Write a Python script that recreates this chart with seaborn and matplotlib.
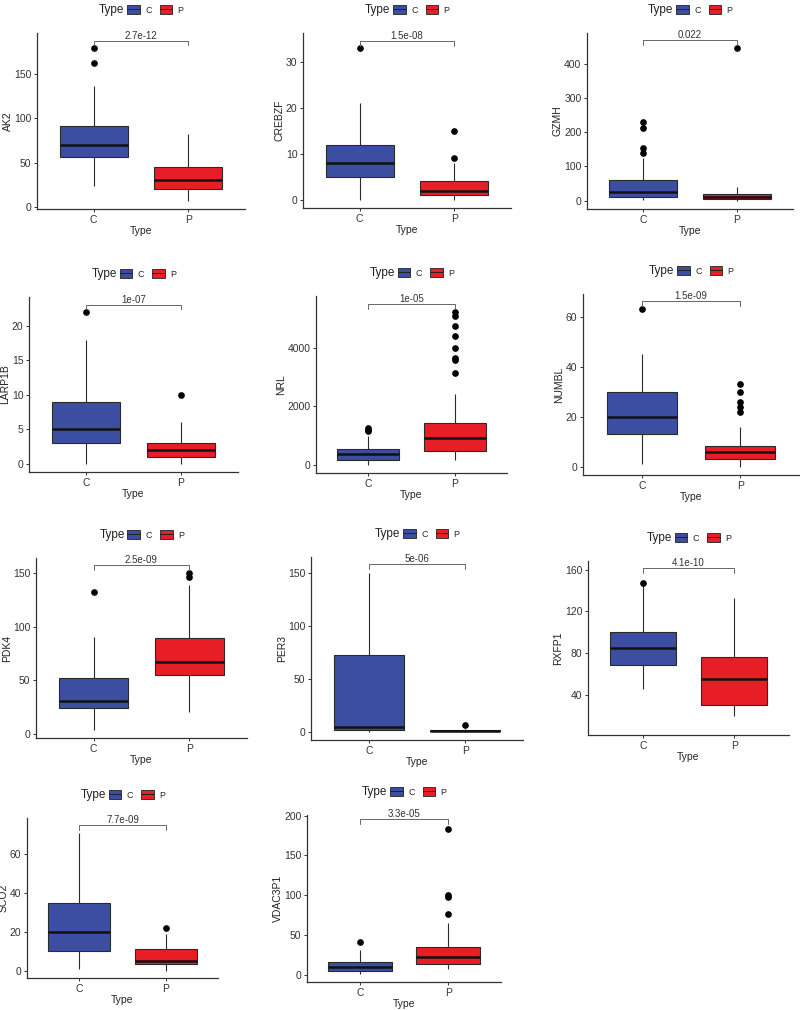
import matplotlib
matplotlib.use("Agg")
import matplotlib.pyplot as plt
import pandas as pd
import seaborn as sns
from matplotlib.patches import Patch
from matplotlib.lines import Line2D
from matplotlib.legend_handler import HandlerTuple

genes = ["AK2", "CREBZF", "GZMH", "LARP1B", "NRL", "NUMBL",
         "PDK4", "PER3", "RXFP1", "SCO2", "VDAC3P1"]
pvals = ["2.7e-12", "1.5e-08", "0.022", "1e-07", "1e-05", "1.5e-09",
         "2.5e-09", "5e-06", "4.1e-10", "7.7e-09", "3.3e-05"]

# box summaries: [whisker low, Q1, median, Q3, whisker high]
c_stats = [[24, 57, 70, 91, 136], [0, 5, 8, 12, 21], [1, 12, 25, 60, 125],
           [0, 3, 5, 9, 18], [11, 159, 385, 544, 975], [1, 13, 20, 30, 45],
           [4, 24, 31, 52, 91], [0, 1.5, 4, 72, 150], [46, 69, 85, 100, 145],
           [1, 10, 20, 35, 71], [1.3, 4.2, 10, 15.5, 30.7]]
p_stats = [[7.5, 20, 31, 45, 82], [0, 1, 2, 4, 8], [0, 4, 10, 19, 39],
           [0, 1, 2, 3, 6], [159, 487, 918, 1428, 2414], [0, 3, 6, 8.4, 16],
           [21, 55, 67, 90, 139], [0, 0.5, 1, 2, 3], [20, 30, 55, 76, 133],
           [0, 3.7, 4.9, 11, 19], [7.6, 13.4, 21.8, 34.5, 65]]
c_out = [[162, 179], [33], [140, 153, 211, 230], [22], [1150, 1200, 1250],
         [63], [133], [], [147], [], [41]]
p_out = [[], [9, 15], [445], [10],
         [3139, 3569, 3637, 3977, 4397, 4748, 5076, 5224],
         [22, 24, 26, 30, 33], [147, 150], [6.5], [], [22], [76, 98, 100, 183]]

yticks = [[0, 50, 100, 150], [0, 10, 20, 30], [0, 100, 200, 300, 400],
          [0, 5, 10, 15, 20], [0, 2000, 4000], [0, 20, 40, 60],
          [0, 50, 100, 150], [0, 50, 100, 150], [40, 80, 120, 160],
          [0, 20, 40, 60], [0, 50, 100, 150, 200]]
ylims = [(-2, 196), (-1.8, 36.3), (-24, 489), (-1.2, 24.2), (-272, 5768),
         (-3.2, 69.1), (-3.7, 164.3), (-7.8, 164.7), (1.7, 168.3),
         (-3.7, 78.5), (-9.2, 200.8)]
brackets = [(187.4, 182.6), (34.6, 33.5), (468, 453), (23.1, 22.4),
            (5507, 5337), (66.4, 64.5), (158.1, 153.4), (157.8, 153.1),
            (161.9, 157), (74.8, 72.4), (195.8, 189.1)]

# panel boxes in pixels: left, right, top, bottom
panels = [(37, 245, 33, 209), (303, 511, 33, 208), (587, 793, 33, 209),
          (29, 238, 297, 472), (316, 507, 296, 473), (583, 799, 294, 475),
          (36, 247, 558, 738), (311, 523, 557, 740), (588, 789, 561, 735),
          (27, 218, 818, 978), (307, 501, 815, 982)]

blue = "#3B4EA2"
red = "#E81E26"
W, H = 800, 1010


def expand(st, out):
    lo, q1, med, q3, hi = st
    return [lo] + [q1] * 20 + [med] * 20 + [q3] * 20 + [hi] + list(out)


sns.set_style("ticks")
plt.rcParams["font.family"] = ["Liberation Sans", "DejaVu Sans"]

fig = plt.figure(figsize=(W / 100, H / 100), dpi=100)

for i, g in enumerate(genes):
    cv = expand(c_stats[i], c_out[i])
    pv = expand(p_stats[i], p_out[i])
    df = pd.DataFrame({"Type": ["C"] * len(cv) + ["P"] * len(pv),
                       "value": cv + pv})
    l, r, t, b = panels[i]
    ax = fig.add_axes([l / W, 1 - b / H, (r - l) / W, (b - t) / H])
    sns.boxplot(data=df, x="Type", y="value", hue="Type", order=["C", "P"],
                palette={"C": blue, "P": red}, saturation=1, width=0.72,
                showcaps=False, linecolor="#2a2a2a", linewidth=0.8,
                legend=False,
                medianprops={"linewidth": 1.8, "color": "#111111"},
                flierprops={"marker": "o", "markerfacecolor": "black",
                            "markeredgecolor": "black", "markersize": 3.8},
                ax=ax)
    ax.set_xlim(-0.6, 1.6)
    ax.set_ylim(*ylims[i])
    ax.set_yticks(yticks[i])
    ax.set_ylabel(g, fontsize=7.5, labelpad=1, color="#222222")
    ax.set_xlabel("Type", fontsize=7.5, labelpad=1, color="#222222")
    ax.tick_params(labelsize=7.5, length=2.5, width=0.7, colors="#333333",
                   pad=1.5)
    for s in ["top", "right"]:
        ax.spines[s].set_visible(False)
    for s in ["left", "bottom"]:
        ax.spines[s].set_linewidth(0.9)
        ax.spines[s].set_color("#333333")

    yt, ye = brackets[i]
    ax.plot([0, 0, 1, 1], [ye, yt, yt, ye], color="#666666", lw=0.7,
            clip_on=False)
    ax.text(0.5, yt, pvals[i], ha="center", va="bottom", fontsize=7,
            color="#333333")

    # legend above each panel
    cx = (l + r) / 2
    ly = 1 - (t - 23) / H
    fig.text((cx - 42) / W, ly, "Type", ha="left", va="center",
             fontsize=8.5, color="#222222")
    handles = [(Patch(facecolor=blue, edgecolor="#222222", lw=0.6),
                Line2D([], [], color="#222222", lw=0.7)),
               (Patch(facecolor=red, edgecolor="#222222", lw=0.6),
                Line2D([], [], color="#222222", lw=0.7))]
    fig.legend(handles, ["C", "P"], loc="center left",
               bbox_to_anchor=((cx - 14) / W, ly), ncol=2, frameon=False,
               fontsize=6.5, handlelength=1.4, handleheight=1.1,
               handletextpad=0.6, columnspacing=0.9, borderpad=0,
               borderaxespad=0,
               handler_map={tuple: HandlerTuple(ndivide=1, pad=0)})

fig.savefig("out.png", dpi=100)
